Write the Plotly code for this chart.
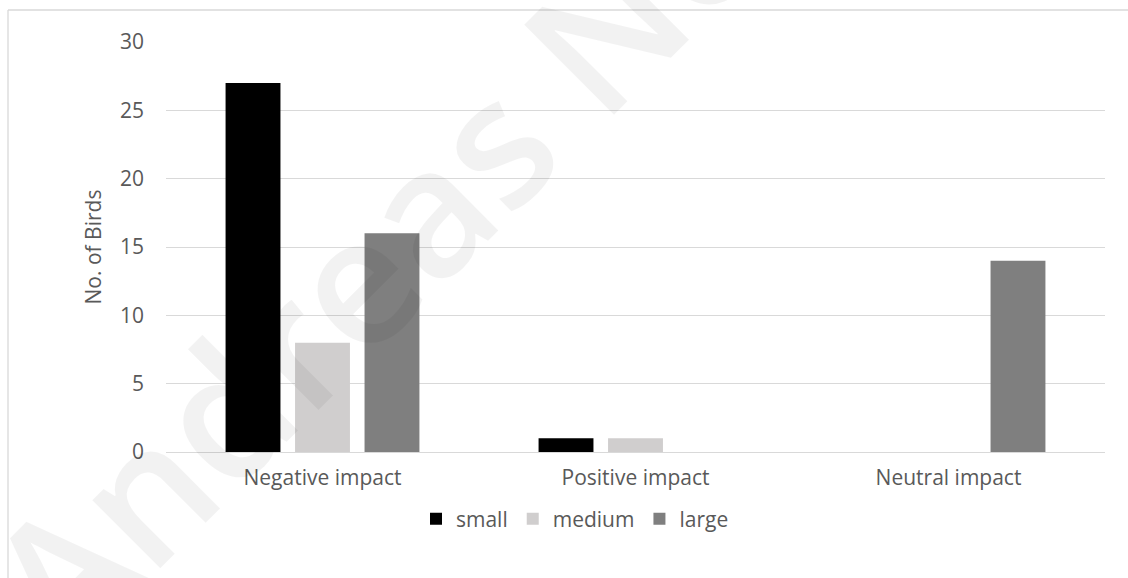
import plotly.graph_objects as go

# Survey counts of birds by body size and type of impact
categories = ["Negative impact", "Positive impact", "Neutral impact"]
small = [27, 1, 0]
medium = [8, 1, 0]
large = [16, 0, 14]
y_ticks = [0, 5, 10, 15, 20, 25, 30]

W, H = 1128, 578
L, R, T, B = 166, 23, 42, 126
PW, PH = W - L - R, H - T - B


def px_x(px):
    return (px - L) / PW


def px_y(py):
    return (H - B - py) / PH


FONT = "Open Sans, sans-serif"
FS = 21
TXT = "#595959"
GRID = "#d9d9d9"

fig = go.Figure()
for name, vals, col in [("small", small, "#000000"),
                        ("medium", medium, "#d0cece"),
                        ("large", large, "#7f7f7f")]:
    fig.add_trace(go.Bar(name=name, x=categories, y=vals,
                         marker=dict(color=col, line=dict(width=0))))

fig.update_layout(
    width=W, height=H,
    margin=dict(l=L, r=R, t=T, b=B, autoexpand=False),
    paper_bgcolor="white", plot_bgcolor="white",
    barmode="group", bargap=0.334, bargroupgap=0.21,
    font=dict(family=FONT, size=FS, color=TXT),
    showlegend=True,
    legend=dict(orientation="h", x=px_x(575), y=px_y(519),
                xanchor="center", yanchor="middle",
                font=dict(size=FS, color=TXT), itemwidth=30,
                traceorder="normal"),
    xaxis=dict(showgrid=False, showline=False, zeroline=False,
               ticks="", ticklabelstandoff=11,
               tickfont=dict(size=FS, color=TXT)),
    yaxis=dict(range=[0, 30], tickvals=y_ticks, showgrid=True,
               gridcolor=GRID, gridwidth=1.3, zeroline=True,
               zerolinecolor=GRID, zerolinewidth=1.3, showline=False,
               ticks="", ticklabelstandoff=21,
               tickfont=dict(size=FS, color=TXT),
               title=dict(text="No. of Birds", standoff=12,
                          font=dict(size=FS, color=TXT))),
)

# Chart frame (top and left edges)
fig.add_shape(type="line", xref="paper", yref="paper",
              x0=px_x(8), x1=px_x(1140), y0=px_y(10), y1=px_y(10),
              line=dict(color=GRID, width=1.3))
fig.add_shape(type="line", xref="paper", yref="paper",
              x0=px_x(8), x1=px_x(8), y0=px_y(10), y1=px_y(590),
              line=dict(color=GRID, width=1.3))

# Faint diagonal watermark
fig.add_annotation(text="Andreas No", xref="paper", yref="paper",
                   x=px_x(373), y=px_y(258), showarrow=False,
                   textangle=-45, xanchor="center", yanchor="middle",
                   font=dict(family="Open Sans, sans-serif", size=178,
                             weight=600, color="rgba(0,0,0,0.05)"))

fig.write_html("out.html")
